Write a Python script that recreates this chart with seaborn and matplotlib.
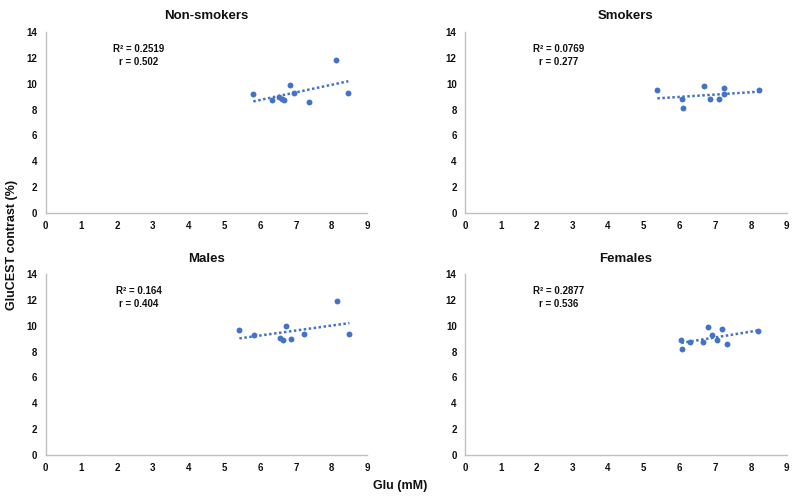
import pandas as pd
import matplotlib
matplotlib.use("Agg")
import matplotlib.pyplot as plt
import seaborn as sns

# values
nonsmk_glu = [5.81, 6.34, 6.54, 6.61, 6.68, 6.85, 6.96, 7.38, 8.13, 8.47]
nonsmk_cest = [9.18, 8.72, 8.95, 8.82, 8.72, 9.88, 9.26, 8.56, 11.81, 9.26]

smk_glu = [5.38, 6.08, 6.11, 6.69, 6.86, 7.09, 7.23, 7.23, 8.22]
smk_cest = [9.49, 8.79, 8.10, 9.80, 8.79, 8.79, 9.64, 9.18, 9.49]

male_glu = [5.42, 5.83, 6.56, 6.65, 6.73, 6.87, 7.24, 8.16, 8.50]
male_cest = [9.64, 9.26, 9.02, 8.87, 9.95, 8.95, 9.33, 11.89, 9.33]

fem_glu = [6.05, 6.08, 6.30, 6.67, 6.81, 6.92, 7.06, 7.20, 7.34, 8.20]
fem_cest = [8.87, 8.17, 8.72, 8.72, 9.88, 9.26, 8.87, 9.72, 8.56, 9.57]

titles = ["Non-smokers", "Smokers", "Males", "Females"]
stats = ["R² = 0.2519\nr = 0.502", "R² = 0.0769\nr = 0.277",
         "R² = 0.164\nr = 0.404", "R² = 0.2877\nr = 0.536"]

sns.set_style("white")
plt.rcParams['font.family'] = ['Liberation Sans', 'DejaVu Sans']
plt.rcParams['font.weight'] = 'bold'
plt.rcParams['text.color'] = '#111111'
plt.rcParams['xtick.color'] = '#111111'
plt.rcParams['ytick.color'] = '#111111'

blue = "#4472C4"
fig = plt.figure(figsize=(8.01, 5.03), dpi=100)
W, H = 801, 503
# axes boxes in pixels: left, top, right, bottom
boxes = [(45.7, 32, 367.3, 213), (465, 32, 786.8, 213),
         (45.7, 274, 367.3, 455), (465, 274, 786.8, 455)]
data = [(nonsmk_glu, nonsmk_cest), (smk_glu, smk_cest),
        (male_glu, male_cest), (fem_glu, fem_cest)]

for (l, t, r, b), (gx, gy), title, st in zip(boxes, data, titles, stats):
    ax = fig.add_axes([l / W, 1 - b / H, (r - l) / W, (b - t) / H])
    df = pd.DataFrame({"glu": gx, "cest": gy})
    sns.regplot(data=df, x="glu", y="cest", ax=ax, ci=None, color=blue,
                scatter_kws={"s": 18, "alpha": 1, "linewidths": 0},
                line_kws={"linestyle": (0, (1, 1)), "linewidth": 1.8})
    ax.set_xlim(0, 9)
    ax.set_ylim(0, 14)
    ax.set_xticks(range(0, 10))
    ax.set_yticks(range(0, 15, 2))
    ax.set_xlabel("")
    ax.set_ylabel("")
    for side in ["top", "right"]:
        ax.spines[side].set_visible(False)
    for side in ["left", "bottom"]:
        ax.spines[side].set_color("#c0c0c0")
        ax.spines[side].set_linewidth(1)
    ax.tick_params(axis="both", length=0, labelsize=7, pad=6)
    for lab in ax.get_xticklabels() + ax.get_yticklabels():
        lab.set_fontweight("bold")
    ax.set_title(title, fontsize=9.5, fontweight="bold", pad=9)
    ax.text(0.29, 0.87, st, transform=ax.transAxes, ha="center", va="center",
            fontsize=7, fontweight="bold", linespacing=1.3)

fig.text(12 / W, 1 - 245 / H, "GluCEST contrast (%)", rotation=90,
         ha="center", va="center", fontsize=9, fontweight="bold")
fig.text(400 / W, 1 - 486 / H, "Glu (mM)", ha="center", va="center",
         fontsize=9, fontweight="bold")

fig.savefig("out.png", dpi=100)
